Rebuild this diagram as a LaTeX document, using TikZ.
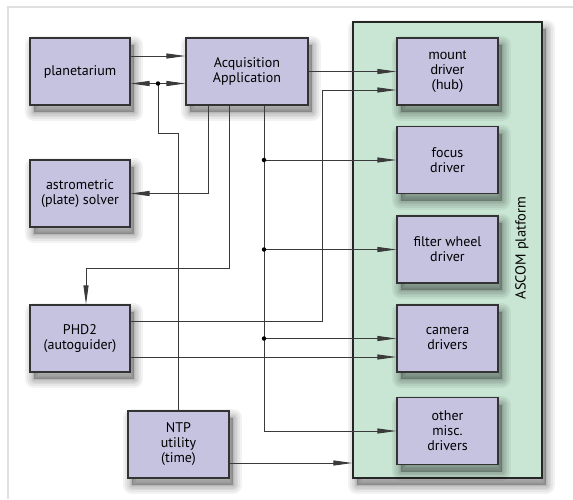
\documentclass[tikz,border=0pt]{standalone}
\usepackage{fontspec}
\setmainfont{PT Sans}
\newfontfamily\hubfont{Liberation Sans}
\usepackage{tikz}
\usetikzlibrary{arrows.meta, positioning, calc}

\definecolor{boxfill}{HTML}{C6C3E1}
\definecolor{platfill}{HTML}{C9E6D4}
\definecolor{wire}{HTML}{3A3A3A}

\tikzset{
  shadowring/.style={preaction={draw=black, draw opacity=0.05, line width=#1, line join=round, transform canvas={xshift=4pt, yshift=-7pt}}},
  softshadow/.style={
    shadowring=18pt, shadowring=14pt, shadowring=10pt, shadowring=7pt, shadowring=4pt,
    preaction={fill=black, fill opacity=0.25, draw=black, draw opacity=0.06, line width=1.5pt, transform canvas={xshift=4pt, yshift=-7pt}}}
}

\begin{document}
\begin{tikzpicture}[
    x=1pt, y=-1pt,
    block/.style={rectangle, softshadow, draw=black!80, line width=1.1pt, fill=boxfill, minimum width=#1, minimum height=67pt,
      inner sep=2pt, align=center, font=\fontsize{14}{15}\selectfont},
    block/.default=100pt,
    arrow/.style={-{Triangle[length=19pt, width=5pt]}, line width=0.9pt, wire},
    wireline/.style={line width=0.9pt, wire},
    joint/.style={circle, fill=black, inner sep=0pt, minimum size=4.5pt}
]
\useasboundingbox (0,0) rectangle (573,499);

% Frame edges
\draw[line width=2pt, black!12] (8,499) -- (8,7) -- (573,7);

% ASCOM platform
\node[rectangle, softshadow, draw=black!85, line width=1.1pt, fill=platfill, minimum width=189pt, minimum height=456pt] (ascom) at (447.5,250) {};
\node[rotate=90, font=\fontsize{14.5}{15}\selectfont] (ascomlbl) at (522,248) {ASCOM platform};

% Client side
\node[block] (planet) at (80,71.5) {planetarium};
\node[block=122pt] (acq) at (247,71.5) {Acquisition\\Application};
\node[block] (solver) at (80,193.5) {astrometric\\(plate) solver};
\node[block] (phd) at (80,338.5) {PHD2\\(autoguider)};
\node[block=101pt] (ntp) at (178.5,444.5) {NTP\\utility\\(time)};

% Drivers
\node[block=101pt, font=\hubfont\fontsize{13.5}{15}\selectfont] (mount) at (447.5,71.5) {mount\\driver\\(hub)};
\node[block=101pt] (focus) at (447.5,160) {focus\\driver};
\node[block=101pt] (filter) at (447.5,249.5) {filter wheel\\driver};
\node[block=101pt] (camera) at (447.5,338.5) {camera\\drivers};
\node[block=101pt] (misc) at (447.5,431) {other\\misc.\\drivers};

% Connectors
\draw[arrow] ([yshift=15.5pt]planet.east) -- ([yshift=15.5pt]acq.west);
\coordinate (tj) at (158,83.5);
\draw[wireline] (ntp.north) -- (ntp.north |- 0,133) -| (tj);
\draw[arrow] (tj) -- (planet.east |- tj);
\draw[arrow] (tj) -- (acq.west |- tj);
\node[joint] (tjdot) at (tj) {};

\draw[arrow] (acq.east) -- (mount.west);
\draw[arrow] ([xshift=-39pt]acq.south) |- (solver.east);
\draw[arrow] ([xshift=-18pt]acq.south) -- ([xshift=-18pt]acq.south |- 0,268) -| ([xshift=6pt]phd.north);

% Driver bus
\coordinate (bus) at ([xshift=17pt]acq.south);
\draw[arrow] (bus) |- (misc.west);
\foreach \d in {focus,filter,camera}{
  \draw[arrow] (bus |- \d.west) -- (\d.west);
  \node[joint] at (bus |- \d.west) {};
}

% Guider and time
\coordinate (mj) at (322,90);
\draw[arrow] ([yshift=17.5pt]phd.east) -| (mj) -- (mj -| mount.west);
\draw[arrow] ([yshift=-18.5pt]phd.east) -- ([yshift=-18.5pt]phd.east -| camera.west);
\draw[arrow] ([yshift=-18.5pt]ntp.east) -- ([yshift=-18.5pt]ntp.east -| ascom.west);

\end{tikzpicture}
\end{document}
